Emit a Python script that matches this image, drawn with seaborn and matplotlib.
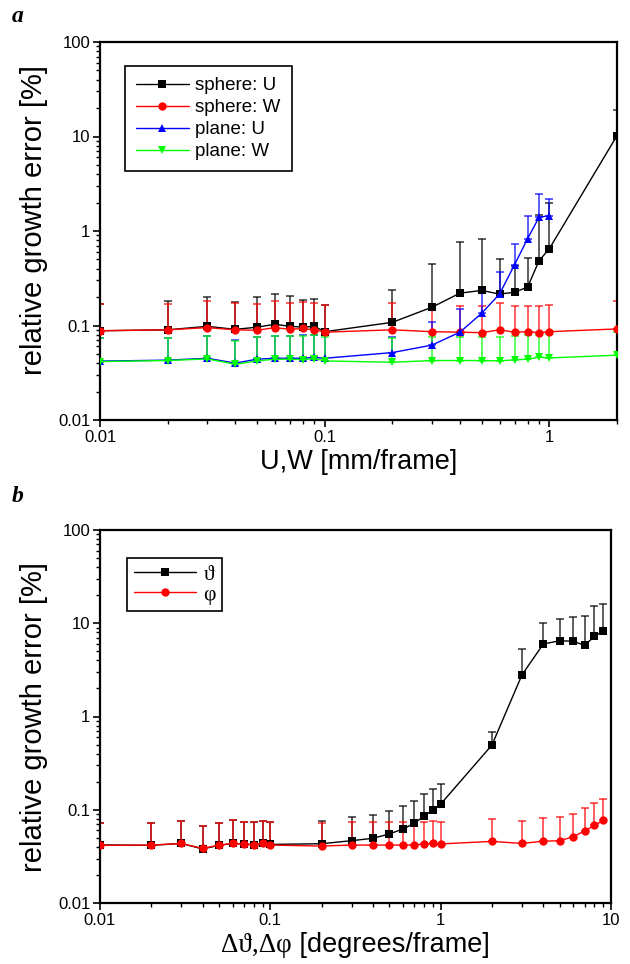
import numpy as np
import pandas as pd
import matplotlib
matplotlib.use("Agg")
import matplotlib.pyplot as plt
import seaborn as sns
from matplotlib.ticker import LogLocator, FuncFormatter, NullFormatter
from matplotlib.offsetbox import TextArea, HPacker, AnchoredOffsetbox

# ---------------- data (panel a) ----------------
xa = [0.01, 0.02, 0.03, 0.04, 0.05, 0.06, 0.07, 0.08, 0.09, 0.1,
      0.2, 0.3, 0.4, 0.5, 0.6, 0.7, 0.8, 0.9, 1.0, 2.0]
sphere_U = [0.088, 0.090, 0.098, 0.091, 0.096, 0.103, 0.098, 0.096, 0.098, 0.086,
            0.108, 0.156, 0.22, 0.235, 0.215, 0.225, 0.255, 0.485, 0.65, 10.2]
sphere_U_top = [0.17, 0.18, 0.20, 0.179, 0.20, 0.213, 0.203, 0.184, 0.189, 0.164,
                0.235, 0.447, 0.764, 0.82, 0.51, 0.43, 0.514, 1.48, 1.96, 19.0]
sphere_W = [0.088, 0.090, 0.095, 0.090, 0.089, 0.095, 0.091, 0.093, 0.090, 0.085,
            0.090, 0.086, 0.085, 0.084, 0.090, 0.085, 0.086, 0.084, 0.086, 0.092]
sphere_W_top = [0.17, 0.17, 0.181, 0.175, 0.17, 0.181, 0.175, 0.178, 0.173, 0.164,
                0.173, 0.159, 0.16, 0.159, 0.173, 0.159, 0.162, 0.162, 0.164, 0.181]
xa_plane_U = [0.01, 0.02, 0.03, 0.04, 0.05, 0.06, 0.07, 0.08, 0.09, 0.1,
              0.2, 0.3, 0.4, 0.5, 0.6, 0.7, 0.8, 0.9, 1.0]
plane_U = [0.042, 0.043, 0.045, 0.040, 0.044, 0.045, 0.045, 0.045, 0.046, 0.045,
           0.0517, 0.062, 0.085, 0.135, 0.215, 0.44, 0.83, 1.40, 1.45]
plane_U_top = [0.074, 0.074, 0.078, 0.070, 0.076, 0.078, 0.078, 0.079, 0.080, 0.080,
               0.075, 0.11, 0.149, 0.24, 0.37, 0.73, 1.44, 2.47, 2.2]
plane_W = [0.0415, 0.0426, 0.0443, 0.0389, 0.0422, 0.044, 0.044, 0.0435, 0.0447, 0.0422,
           0.0408, 0.0426, 0.0426, 0.0426, 0.0422, 0.0433, 0.044, 0.0462, 0.0454, 0.0485]
plane_W_top = [0.0746, 0.074, 0.0783, 0.0693, 0.0759, 0.0779, 0.0779, 0.0779, 0.079, 0.0752,
               0.0746, 0.0764, 0.0752, 0.0752, 0.0764, 0.0779, 0.079, 0.079, 0.081, 0.085]

# ---------------- data (panel b) ----------------
xb = [0.01, 0.02, 0.03, 0.04, 0.05, 0.06, 0.07, 0.08, 0.09, 0.1,
      0.2, 0.3, 0.4, 0.5, 0.6, 0.7, 0.8, 0.9, 1.0,
      2, 3, 4, 5, 6, 7, 8, 9]
theta = [0.042, 0.0415, 0.0435, 0.038, 0.0415, 0.0435, 0.043, 0.042, 0.0435, 0.0425,
         0.0432, 0.0466, 0.0494, 0.055, 0.0622, 0.0715, 0.0857, 0.0993, 0.115,
         0.494, 2.79, 5.98, 6.5, 6.4, 5.8, 7.24, 8.26]
theta_top = [0.072, 0.072, 0.0763, 0.0675, 0.0726, 0.0768, 0.0745, 0.074, 0.075, 0.074,
             0.0763, 0.083, 0.087, 0.097, 0.11, 0.124, 0.148, 0.167, 0.19,
             0.68, 5.25, 10.0, 11.2, 11.8, 12.0, 15.4, 16.0]
phi = [0.0415, 0.0418, 0.0435, 0.0385, 0.0418, 0.0435, 0.0428, 0.042, 0.0435, 0.0418,
       0.0408, 0.0418, 0.0418, 0.0418, 0.0418, 0.042, 0.0428, 0.0435, 0.043,
       0.0458, 0.0435, 0.046, 0.0465, 0.0514, 0.0592, 0.068, 0.077]
phi_top = [0.072, 0.072, 0.0763, 0.0675, 0.0726, 0.0768, 0.0745, 0.074, 0.075, 0.074,
           0.0718, 0.073, 0.073, 0.073, 0.073, 0.0745, 0.0745, 0.0763, 0.0745,
           0.0796, 0.0763, 0.082, 0.0842, 0.0907, 0.1036, 0.117, 0.13]

# ---------------- style ----------------
sns.set_theme(style="ticks")
plt.rcParams['font.family'] = ['Liberation Sans', 'DejaVu Sans']
plt.rcParams['axes.edgecolor'] = 'black'
plt.rcParams['xtick.color'] = 'black'
plt.rcParams['ytick.color'] = 'black'
plt.rcParams['text.color'] = 'black'
plt.rcParams['axes.labelcolor'] = 'black'

fig = plt.figure(figsize=(6.3, 9.64), dpi=100)
axa = fig.add_axes([100 / 630, 1 - 420 / 964, 517 / 630, 378 / 964])
axb = fig.add_axes([100 / 630, 1 - 903 / 964, 511 / 630, 373 / 964])


def series(ax, x, y, top, color, marker, ms, label):
    y = np.asarray(y, float)
    top = np.asarray(top, float)
    ax.errorbar(x, y, yerr=[np.zeros_like(y), top - y], fmt='none',
                ecolor=color, elinewidth=1.1, capsize=3.2, capthick=1.1,
                alpha=0.8, label='_nolegend_', zorder=2)
    df = pd.DataFrame({'x': x, 'y': y})
    sns.lineplot(data=df, x='x', y='y', ax=ax, color=color, marker=marker,
                 markersize=ms, markeredgewidth=0, linewidth=1.0,
                 sort=False, label=label, zorder=3)


series(axa, xa, sphere_U, sphere_U_top, '#000000', 's', 5.3, 'sphere: U')
series(axa, xa, sphere_W, sphere_W_top, '#ff0000', 'o', 6.0, 'sphere: W')
series(axa, xa_plane_U, plane_U, plane_U_top, '#0000ff', '^', 6.3, 'plane: U')
series(axa, xa, plane_W, plane_W_top, '#00ff00', 'v', 6.3, 'plane: W')

series(axb, xb, theta, theta_top, '#000000', 's', 5.3, 'ϑ')
series(axb, xb, phi, phi_top, '#ff0000', 'o', 6.0, 'φ')

fmt = FuncFormatter(lambda v, p: f'{v:g}')
for ax, xmax, ylab_y in ((axa, 2.0, 0.53), (axb, 10.0, 0.5)):
    ax.set_xscale('log')
    ax.set_yscale('log')
    ax.set_xlim(0.01, xmax)
    ax.set_ylim(0.01, 100)
    for sp in ax.spines.values():
        sp.set_visible(True)
        sp.set_linewidth(1.6)
        sp.set_color('black')
    ax.xaxis.set_major_locator(LogLocator(base=10, numticks=10))
    ax.xaxis.set_minor_locator(LogLocator(base=10, subs=np.arange(2, 10), numticks=30))
    ax.yaxis.set_major_locator(LogLocator(base=10, numticks=10))
    ax.yaxis.set_minor_locator(LogLocator(base=10, subs=np.arange(2, 10), numticks=30))
    ax.xaxis.set_major_formatter(fmt)
    ax.yaxis.set_major_formatter(fmt)
    ax.xaxis.set_minor_formatter(NullFormatter())
    ax.yaxis.set_minor_formatter(NullFormatter())
    ax.tick_params(which='major', direction='out', length=5, width=1.2,
                   labelsize=12, top=False, right=False, pad=2)
    ax.tick_params(which='minor', direction='out', length=3, width=1.0,
                   top=False, right=False)
    ax.set_ylabel('relative growth error [%]', fontsize=21)
    w_px = ax.get_position().width * 630
    ax.yaxis.set_label_coords(-52 / w_px, ylab_y)
    ax.grid(False)

axa.set_xlabel('U,W [mm/frame]', fontsize=19.5, labelpad=3)
axb.set_xlabel('')

# panel a legend
leg = axa.legend(loc='upper left', bbox_to_anchor=(0.048, 0.937), borderaxespad=0,
                 frameon=True, fancybox=False, edgecolor='black', fontsize=13.5,
                 handlelength=2.8, handletextpad=0.35, labelspacing=0.26,
                 borderpad=0.6)
leg.get_frame().set_linewidth(1.2)
leg.get_frame().set_facecolor('white')
leg.get_frame().set_alpha(1)

# panel b legend
legb = axb.legend(loc='upper left', bbox_to_anchor=(0.053, 0.925), borderaxespad=0,
                  frameon=True, fancybox=False, edgecolor='black',
                  prop=dict(family=['Liberation Serif', 'DejaVu Serif'], size=15.5),
                  handlelength=2.9, handletextpad=0.35, labelspacing=0.0,
                  borderpad=0.3)
legb.get_frame().set_linewidth(1.2)
legb.get_frame().set_facecolor('white')
legb.get_frame().set_alpha(1)

# panel b x label with serif greek part
ta1 = TextArea('Δϑ,Δφ', textprops=dict(fontfamily=['Liberation Serif', 'DejaVu Serif'],
                                         fontsize=19.5, color='black'))
ta2 = TextArea(' [degrees/frame]', textprops=dict(fontfamily=['Liberation Sans', 'DejaVu Sans'],
                                                  fontsize=19.5, color='black'))
box = HPacker(children=[ta1, ta2], align='baseline', pad=0, sep=0)
anch = AnchoredOffsetbox(loc='center', child=box, pad=0, frameon=False, borderpad=0,
                         bbox_to_anchor=((100 + 611) / 2 / 630, 1 - 945 / 964),
                         bbox_transform=fig.transFigure)
fig.add_artist(anch)

# panel letters
for lab, yy in (('a', 17), ('b', 497)):
    fig.text(12 / 630, 1 - yy / 964, lab, fontfamily=['Liberation Serif', 'DejaVu Serif'],
             fontweight='bold', fontstyle='italic', fontsize=17, va='center', ha='left')

fig.savefig('out.png', dpi=100, facecolor='white')
